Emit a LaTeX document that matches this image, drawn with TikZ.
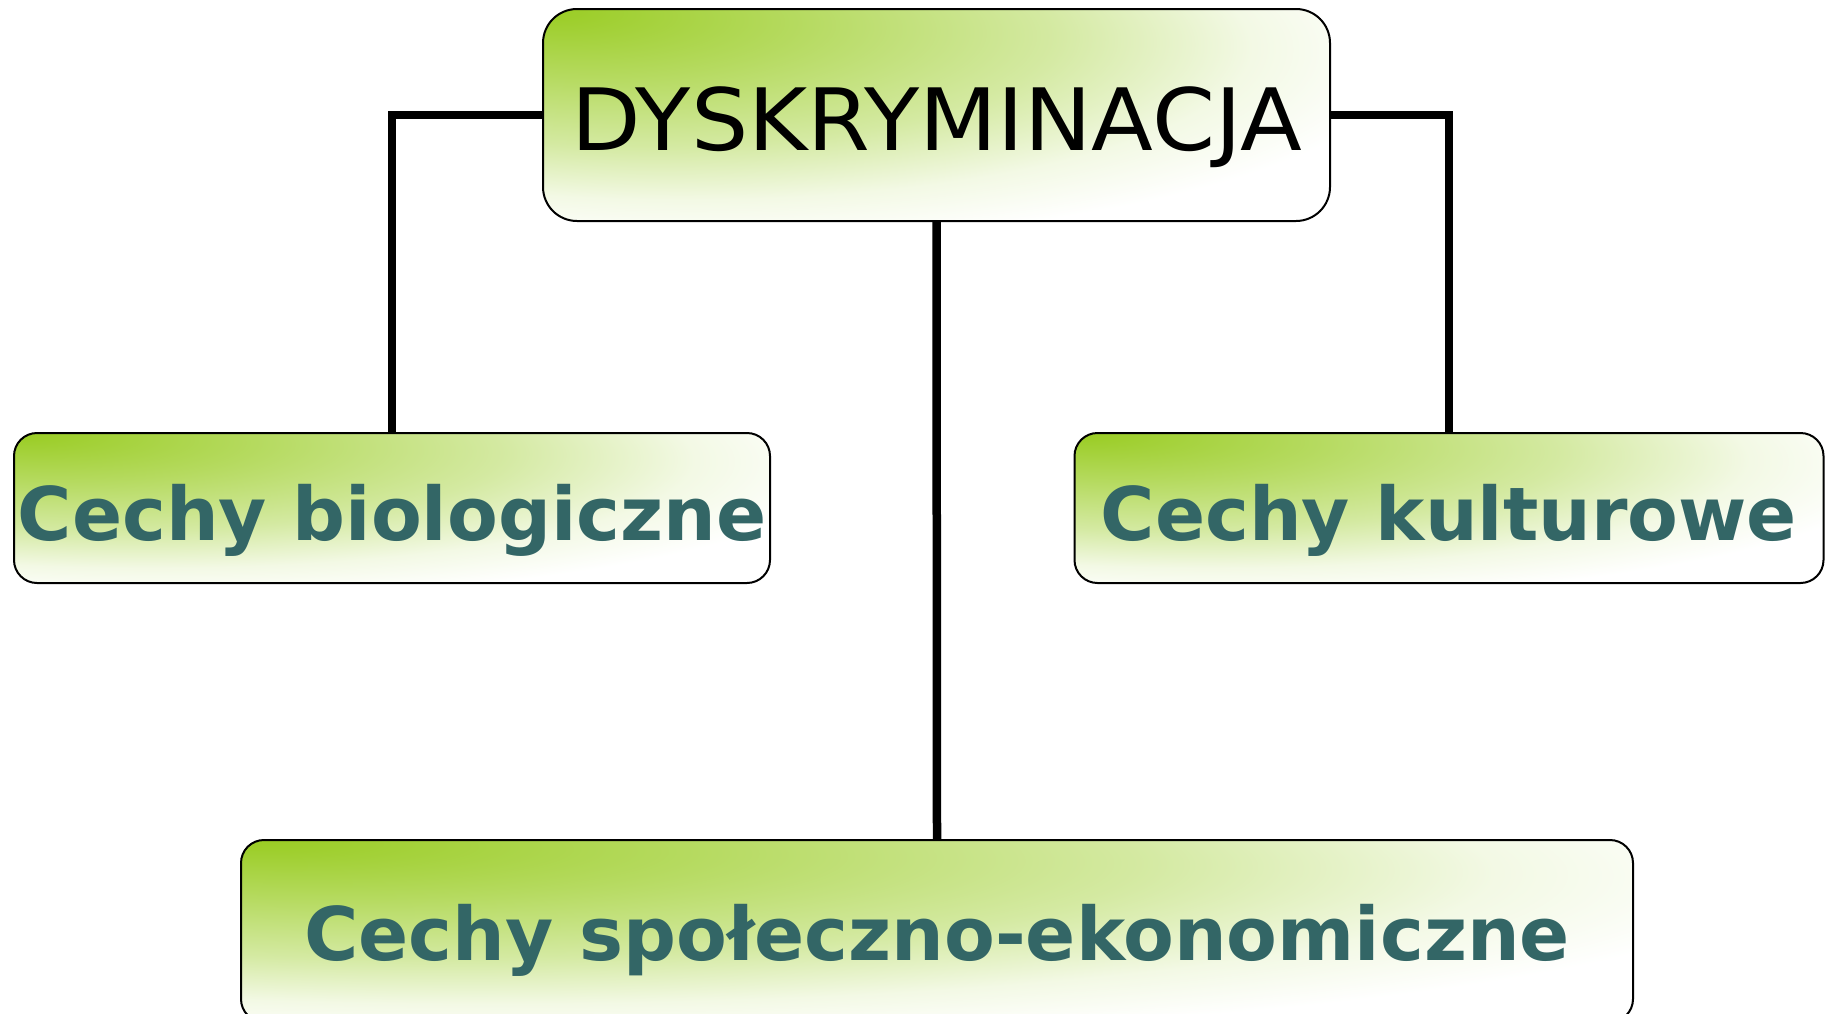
\documentclass[tikz,border=0pt]{standalone}
\usepackage{fontspec}
\setmainfont{DejaVu Sans}
\newfontfamily\dyskfont{DejaVu Sans}[FakeStretch=1.05]
\definecolor{cechygreen}{RGB}{153,204,34}
\definecolor{cechyteal}{RGB}{51,102,102}
\colorlet{cechygreenA}{cechygreen!72!white}
\colorlet{cechygreenB}{cechygreen!42!white}
\colorlet{cechygreenC}{cechygreen!12!white}
\pgfdeclareradialshading{cechyshade}{\pgfpoint{-25bp}{25bp}}{color(0bp)=(cechygreen); color(13bp)=(cechygreenA); color(26bp)=(cechygreenB); color(36bp)=(cechygreenC); color(44bp)=(white); color(100bp)=(white)}
\tikzset{
	cechybox/.style={draw, line width=1pt, shade, shading=cechyshade, inner sep=0pt, text depth=0pt},
	cechytext/.style={text=cechyteal, font=\bfseries\fontsize{37}{45}\selectfont},
	link/.style={line width=4.25pt}
}

\begin{document}
\begin{tikzpicture}[x=0.5pt, y=-0.5pt]
	\useasboundingbox (0,0) rectangle (1825,1013);
	\clip (0,0) rectangle (1825,1013);
	\node [cechybox, rounded corners=17pt, minimum width=393.5pt, minimum height=106pt,
	text height=35pt, font=\dyskfont\fontsize{43}{52}\selectfont] (dysk) at (936.5,115) {DYSKRYMINACJA};
	\node [cechybox, cechytext, rounded corners=11.5pt, minimum width=378pt, minimum height=75pt,
	text height=32pt] (bio) at (392,508) {Cechy biologiczne};
	\node [cechybox, cechytext, rounded corners=11.5pt, minimum width=374.5pt, minimum height=75pt,
	text height=32pt] (kult) at (1449,508) {Cechy kulturowe};
	\node [cechybox, cechytext, rounded corners=11.5pt, minimum width=696pt, minimum height=91pt,
	text height=29pt] (spol) at (937,931) {Cechy społeczno-ekonomiczne};
	\draw [link] (dysk.west) -| (bio.north);
	\draw [link] (dysk.east) -| (kult.north);
	\draw [link] (dysk.south) -- (spol.north);
\end{tikzpicture}
\end{document}
